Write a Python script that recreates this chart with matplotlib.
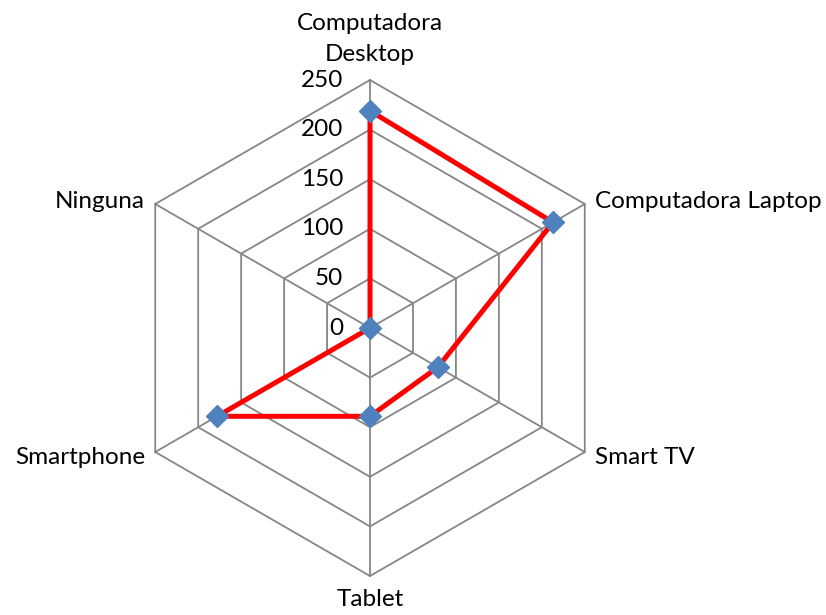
import numpy as np
import matplotlib
matplotlib.use("Agg")
import matplotlib.pyplot as plt
from matplotlib.transforms import offset_copy

categories = ["Computadora\nDesktop", "Computadora Laptop", "Smart TV", "Tablet", "Smartphone", "Ninguna"]
values = [219, 213, 79, 89, 178, 0]
r_ticks = [0, 50, 100, 150, 200, 250]
r_max = 250

plt.rcParams['font.family'] = ['Lato', 'DejaVu Sans']

fig = plt.figure(figsize=(8.26, 6.15), dpi=100)
ax = fig.add_axes([0.1477, 0.0634, 0.6005, 0.8065], projection='polar')
ax.set_theta_zero_location('N')
ax.set_theta_direction(-1)
ax.set_ylim(0, r_max)
ax.grid(False)
ax.spines['polar'].set_visible(False)
ax.set_xticks([])
ax.set_yticks([])
ax.patch.set_visible(False)

n = len(categories)
angles = np.arange(n) * 2 * np.pi / n
closed = np.append(angles, angles[0])

grid_color = '#868686'
for r in r_ticks[1:]:
    ax.plot(closed, [r] * (n + 1), color=grid_color, lw=1.3, zorder=1, clip_on=False)
for a in angles:
    ax.plot([a, a], [0, r_max], color=grid_color, lw=1.3, zorder=1, clip_on=False)

vals_closed = values + values[:1]
ax.plot(closed, vals_closed, color='#FF0000', lw=3.6, zorder=3, clip_on=False)
ax.plot(angles, values, linestyle='none', marker='D', markersize=11.5,
        color='#4F81BD', markeredgecolor='#4F81BD', zorder=4, clip_on=False)

fs = 17.5
lbl_tr = offset_copy(ax.transData, fig=fig, x=-27, y=0, units='dots')
for r in r_ticks:
    ax.text(0, r, str(r), transform=lbl_tr, ha='right', va='center', fontsize=fs)

offsets = [(0, 15, 'center', 'bottom'), (10, 3, 'left', 'center'), (10, -5, 'left', 'center'),
           (0, -13, 'center', 'top'), (-10, -5, 'right', 'center'), (-10, 3, 'right', 'center')]
for a, c, (dx, dy, ha, va) in zip(angles, categories, offsets):
    tr = offset_copy(ax.transData, fig=fig, x=dx, y=dy, units='dots')
    ax.text(a, r_max, c, transform=tr, ha=ha, va=va, fontsize=fs, multialignment='center',
            linespacing=1.6)

fig.savefig('out.png', dpi=100)
